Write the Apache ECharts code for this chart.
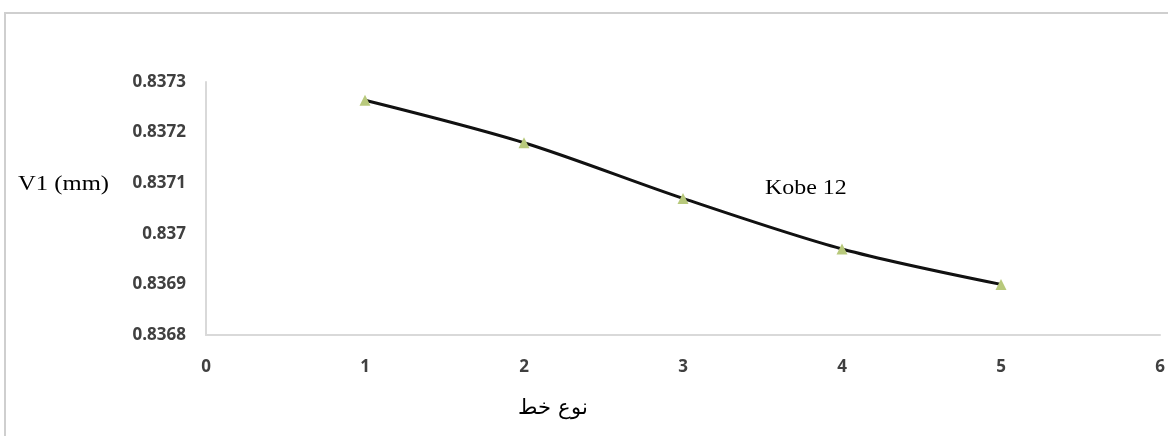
<!DOCTYPE html>
<html><head><meta charset="utf-8">
<script src="https://cdn.jsdelivr.net/npm/echarts@6/dist/echarts.min.js"></script>
<style>html,body{margin:0;padding:0;background:#fff}#c{width:1168px;height:436px}</style>
</head><body><div id="c"></div>
<script>
const xValues = [1, 2, 3, 4, 5];
const v1Values = [0.837264, 0.83718, 0.83707, 0.83697, 0.8369];
const seriesName = 'Kobe 12';
const yTitle = 'V1 (mm)';
const xTitle = 'نوع خط';

const chart = echarts.init(document.getElementById('c'));
chart.setOption({
  animation: false,
  backgroundColor: '#fff',
  grid: {left: 206, right: 8, top: 82, bottom: 101},
  xAxis: {
    type: 'value', min: 0, max: 6, interval: 1,
    axisLine: {show: true, lineStyle: {color: '#d9d9d9', width: 2}},
    axisTick: {show: false}, splitLine: {show: false},
    axisLabel: {margin: 24, color: '#404040', fontWeight: 'bold', fontSize: 17, fontFamily: 'Open Sans'}
  },
  yAxis: {
    type: 'value', min: 0.8368, max: 0.8373, interval: 0.0001,
    axisLine: {show: true, lineStyle: {color: '#d9d9d9', width: 2}},
    axisTick: {show: false}, splitLine: {show: false},
    axisLabel: {margin: 20, color: '#404040', fontWeight: 'bold', fontSize: 17, fontFamily: 'Open Sans',
      formatter: v => String(parseFloat(v.toFixed(4)))}
  },
  series: [{
    name: seriesName, type: 'line', smooth: 0.3,
    data: xValues.map((x, i) => [x, v1Values[i]]),
    symbol: 'triangle', symbolSize: 11,
    itemStyle: {color: '#b8c97c'},
    lineStyle: {color: '#111', width: 3},
    z: 3
  }],
  graphic: [
    {type: 'rect', shape: {x: 5, y: 13, width: 1200, height: 500}, style: {fill: 'none', stroke: '#cfcfcf', lineWidth: 2}, silent: true},
    {type: 'text', x: 765, y: 178, scaleX: 1.14, style: {text: seriesName, fontFamily: 'Liberation Serif', fontSize: 21, fill: '#000'}},
    {type: 'text', x: 18, y: 173, scaleX: 1.12, style: {text: yTitle, fontFamily: 'Liberation Serif', fontSize: 22, fill: '#000'}},
    {type: 'text', x: 553, y: 398, style: {text: xTitle, align: 'center', fontFamily: 'DejaVu Serif', fontSize: 21, fill: '#000'}}
  ]
});
</script></body></html>
